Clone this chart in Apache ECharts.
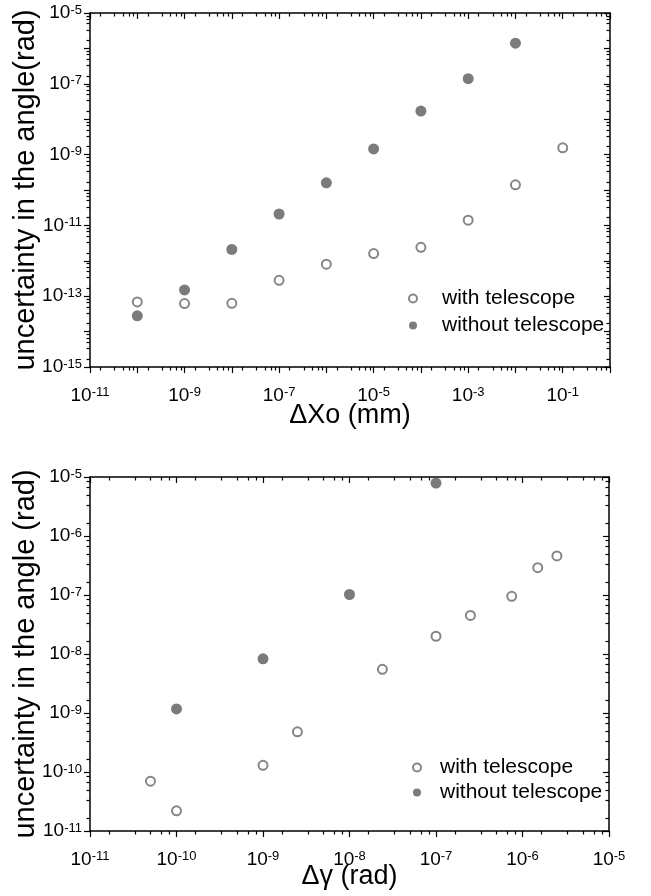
<!DOCTYPE html>
<html><head><meta charset="utf-8">
<script src="https://cdn.jsdelivr.net/npm/echarts@6/dist/echarts.min.js"></script>
<style>html,body{margin:0;padding:0;background:#fff}#c{width:651px;height:896px}</style>
</head><body><div id="c"></div>
<script>
// ---- Top chart data (ΔXo in mm vs uncertainty in rad)
const topWithX = [1e-10, 1e-9, 1e-8, 1e-7, 1e-6, 1e-5, 1e-4, 1e-3, 1e-2, 1e-1];
const topWithY = [6.9e-14, 6.2e-14, 6.3e-14, 2.8e-13, 8e-13, 1.6e-12, 2.4e-12, 1.4e-11, 1.4e-10, 1.55e-9];
const topWithoutX = [1e-10, 1e-9, 1e-8, 1e-7, 1e-6, 1e-5, 1e-4, 1e-3, 1e-2];
const topWithoutY = [2.8e-14, 1.5e-13, 2.1e-12, 2.1e-11, 1.6e-10, 1.45e-9, 1.7e-8, 1.4e-7, 1.4e-6];
// ---- Bottom chart data (Δγ in rad vs uncertainty in rad)
const botWithX = [5e-11, 1e-10, 1e-9, 2.5e-9, 2.4e-8, 1e-7, 2.5e-7, 7.5e-7, 1.5e-6, 2.5e-6];
const botWithY = [7e-11, 2.2e-11, 1.3e-10, 4.8e-10, 5.5e-9, 2.0e-8, 4.5e-8, 9.5e-8, 2.9e-7, 4.6e-7];
const botWithoutX = [1e-10, 1e-9, 1e-8, 1e-7];
const botWithoutY = [1.17e-9, 8.3e-9, 1.02e-7, 7.9e-6];
// ---- Tick labels (decade exponents shown as 10^n)
const topXLabelExps = [-11, -9, -7, -5, -3, -1];
const topYLabelExps = [-15, -13, -11, -9, -7, -5];
const botXLabelExps = [-11, -10, -9, -8, -7, -6, -5];
const botYLabelExps = [-11, -10, -9, -8, -7, -6, -5];
const seriesNames = ['with telescope', 'without telescope'];

const FONT = '"Liberation Sans", Arial, Helvetica, sans-serif';
const FILL = '#7b7b7b';
const RING = '#868686';

function majors(lo, hi) { const a = []; for (let n = lo; n <= hi; n++) a.push(n); return a; }
function minors(lo, hi) {
  const a = [];
  for (let n = lo; n < hi; n++) for (let k = 1; k <= 5; k++) a.push(n + Math.log10(k * 10 / 6));
  return a;
}
const rich = {
  b: { fontSize: 19, lineHeight: 19, padding: [5, 0, 5, 0], color: '#000', fontFamily: FONT },
  s: { fontSize: 13, lineHeight: 13, verticalAlign: 'top', color: '#000', fontFamily: FONT }
};
const fmt = v => '{b|10}{s|' + Math.round(v) + '}';
const lineStyle = { color: '#000', width: 1.5 };
const tickStyle = { color: '#000', width: 1.2 };

function axesFor(dim, gi, lo, hi, labelExps, name, nameGap) {
  const isX = dim === 'x';
  const p1 = isX ? 'bottom' : 'left', p2 = isX ? 'top' : 'right';
  const base = { type: 'value', gridIndex: gi, min: lo, max: hi, splitLine: { show: false } };
  return [
    { type: 'log', gridIndex: gi, logBase: 10, min: Number('1e' + lo), max: Number('1e' + hi), show: false },
    Object.assign({}, base, {
      position: p1,
      axisLine: { show: true, onZero: false, lineStyle },
      axisTick: { show: true, inside: false, length: 6, customValues: majors(lo, hi), lineStyle: tickStyle },
      axisLabel: { show: true, customValues: labelExps, formatter: fmt, rich, margin: isX ? 19 : 8 },
      name, nameLocation: 'middle', nameGap, nameMoveOverlap: false,
      nameTextStyle: { fontSize: isX ? 27 : 29, color: '#000', fontFamily: FONT }
    }),
    Object.assign({}, base, {
      position: p1,
      axisLine: { show: false, onZero: false },
      axisTick: { show: true, inside: false, length: 3.5, customValues: minors(lo, hi), lineStyle: tickStyle },
      axisLabel: { show: false }
    }),
    Object.assign({}, base, {
      position: p2,
      axisLine: { show: true, onZero: false, lineStyle },
      axisTick: { show: true, inside: true, length: 6, customValues: majors(lo, hi), lineStyle: tickStyle },
      axisLabel: { show: false }
    }),
    Object.assign({}, base, {
      position: p2,
      axisLine: { show: false, onZero: false },
      axisTick: { show: true, inside: true, length: 3.5, customValues: minors(lo, hi), lineStyle: tickStyle },
      axisLabel: { show: false }
    })
  ];
}

const zip = (xs, ys) => xs.map((x, i) => [x, ys[i]]);
const openStyle = { color: '#fff', borderColor: RING, borderWidth: 2, opacity: 1 };
const fillStyle = { color: FILL, opacity: 1 };

const option = {
  animation: false,
  backgroundColor: '#fff',
  grid: [
    { left: 90, top: 13, width: 520, height: 354, outerBoundsMode: 'none', containLabel: false },
    { left: 90, top: 477, width: 519, height: 354, outerBoundsMode: 'none', containLabel: false }
  ],
  xAxis: [].concat(
    axesFor('x', 0, -11, 0, topXLabelExps, 'ΔXo (mm)', 35),
    axesFor('x', 1, -11, -5, botXLabelExps, 'Δγ (rad)', 32)
  ),
  yAxis: [].concat(
    axesFor('y', 0, -15, -5, topYLabelExps, 'uncertainty in the angle(rad)', 50),
    axesFor('y', 1, -11, -5, botYLabelExps, 'uncertainty in the angle (rad)', 50)
  ),
  legend: [
    { orient: 'vertical', left: 408, top: 288, padding: 0, itemWidth: 8, itemHeight: 8, itemGap: 6,
      textStyle: { fontSize: 21, lineHeight: 21, color: '#000', fontFamily: FONT, padding: [0, 0, 0, 20] },
      data: seriesNames },
    { orient: 'vertical', left: 412, top: 757, padding: 0, itemWidth: 8, itemHeight: 8, itemGap: 4,
      textStyle: { fontSize: 21, lineHeight: 21, color: '#000', fontFamily: FONT, padding: [0, 0, 0, 14] },
      data: seriesNames }
  ],
  series: [
    { name: seriesNames[0], type: 'scatter', xAxisIndex: 0, yAxisIndex: 0, symbol: 'circle', symbolSize: 9,
      itemStyle: openStyle, data: zip(topWithX, topWithY), z: 5 },
    { name: seriesNames[1], type: 'scatter', xAxisIndex: 0, yAxisIndex: 0, symbol: 'circle', symbolSize: 11,
      itemStyle: fillStyle, data: zip(topWithoutX, topWithoutY), z: 4 },
    { name: seriesNames[0], type: 'scatter', xAxisIndex: 5, yAxisIndex: 5, symbol: 'circle', symbolSize: 9,
      itemStyle: openStyle, data: zip(botWithX, botWithY), z: 5 },
    { name: seriesNames[1], type: 'scatter', xAxisIndex: 5, yAxisIndex: 5, symbol: 'circle', symbolSize: 11,
      itemStyle: fillStyle, data: zip(botWithoutX, botWithoutY), z: 4 }
  ]
};
const chart = echarts.init(document.getElementById('c'));
chart.setOption(option);
</script></body></html>
